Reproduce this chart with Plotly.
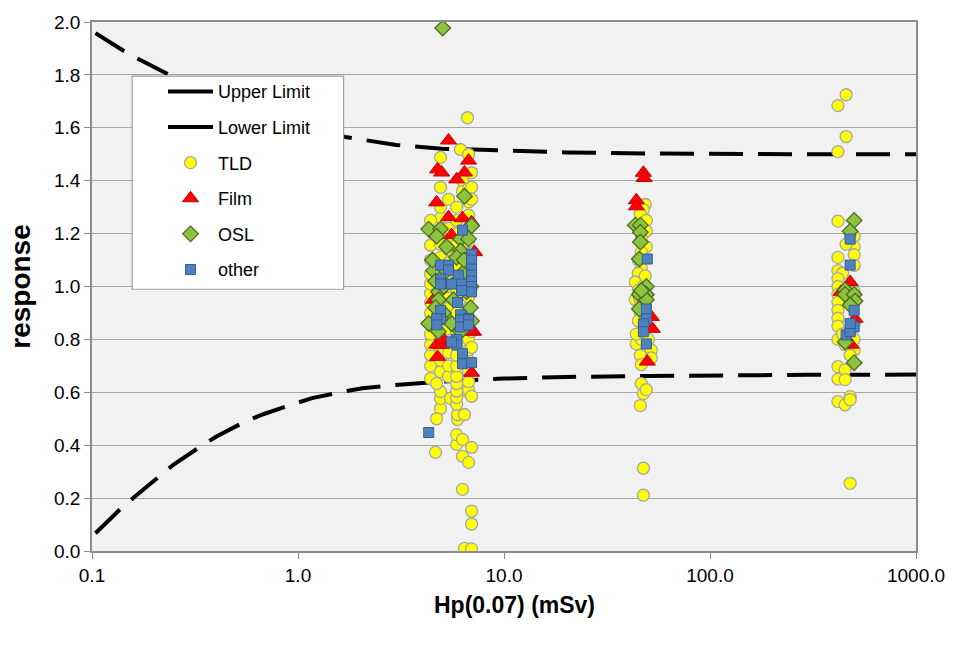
import plotly.graph_objects as go

# Acceptance limits (trumpet curves) read along Hp(0.07)
upper_dose = [0.104, 0.15, 0.2, 0.3, 0.5, 1.0, 1.7, 3.0, 5.0, 10.0, 20.0, 50.0, 100.0, 300.0, 1000.0]
upper_resp = [1.958, 1.88, 1.83, 1.76, 1.68, 1.60, 1.565, 1.535, 1.521, 1.513, 1.507, 1.503, 1.501, 1.500, 1.500]

lower_dose = [0.104, 0.135, 0.16, 0.211, 0.248, 0.336, 0.402, 0.556, 0.678, 0.954, 1.17, 1.67,
              2.05, 2.97, 5.0, 10.0, 20.0, 50.0, 100.0, 300.0, 1000.0]
lower_resp = [0.067, 0.153, 0.203, 0.282, 0.326, 0.395, 0.433, 0.490, 0.517, 0.556, 0.578, 0.603,
              0.615, 0.628, 0.640, 0.652, 0.658, 0.662, 0.665, 0.666, 0.667]

# TLD results
tld_dose = [
    4.40, 4.40, 4.40, 4.40, 4.40, 4.40, 4.40, 4.40, 4.40, 4.40, 4.40, 4.40, 4.40,
    4.92, 4.92, 4.92, 4.92, 4.92, 4.92, 4.92, 4.92, 4.92, 4.92, 4.92, 4.92, 4.92, 4.92, 4.92, 4.92, 4.92, 4.92, 4.92, 4.92,
    5.38, 5.38, 5.38, 5.38, 5.38, 5.38, 5.38, 5.38, 5.38, 5.38, 5.38, 5.38, 5.38, 5.38, 5.38, 5.50,
    5.89, 5.89, 5.95, 5.95, 5.89, 5.89, 5.89, 5.89, 5.89, 5.89, 5.89, 5.89, 5.89, 5.89, 5.89, 5.89, 5.89, 5.89, 5.89, 5.89, 5.89, 5.89, 5.89, 5.89,
    6.29, 6.29, 6.29, 6.43, 6.43, 6.15, 6.29, 6.29, 6.65,
    6.73, 6.73, 6.73, 6.73, 6.73, 6.73, 6.73, 6.73, 6.73, 6.73, 6.73, 6.73, 6.73, 6.73, 6.73, 6.73, 6.73, 6.73, 6.73, 6.73, 6.73, 6.73,
    6.96, 6.96, 6.96, 6.96, 6.96, 6.96, 6.96, 6.96, 6.96, 6.96,
    4.65, 4.71, 4.71, 4.55, 4.40,
    48.5, 47.5, 45.9, 49.1, 49.1, 46.4, 49.1, 46.4, 44.9, 46.4, 44.9, 43.4, 47.5, 44.9, 43.4, 45.9, 45.9,
    44.9, 49.1, 43.9, 46.4, 45.9, 51.9, 51.9, 46.4, 46.4, 47.5, 49.1, 45.9, 47.5, 47.5, 45.4, 48.5, 43.9, 50.2,
    458, 418, 458, 418, 418, 501, 501, 458, 418, 501, 418, 440, 501, 418, 418, 501, 418, 418, 501, 418,
    418, 501, 418, 418, 453, 501, 418, 453, 418, 453, 418, 453, 479, 479, 479, 479, 440, 479, 501,
]
tld_resp = [
    0.652, 0.70, 0.74, 0.78, 0.82, 0.86, 0.90, 0.94, 0.975, 1.01, 1.047, 1.10, 1.156,
    0.539, 0.577, 0.603, 0.678, 0.72, 0.76, 0.80, 0.85, 0.89, 0.93, 0.97, 1.02, 1.06, 1.11, 1.16, 1.21, 1.26, 1.30, 1.375, 1.488,
    0.66, 0.70, 0.75, 0.79, 0.84, 0.88, 0.92, 0.96, 1.00, 1.05, 1.09, 1.14, 1.18, 1.22, 1.33, 0.577,
    0.403, 0.44, 0.497, 0.516, 0.555, 0.58, 0.605, 0.633, 0.66, 0.70, 0.74, 0.78, 0.82, 0.86, 0.90, 0.95, 0.99, 1.03, 1.07, 1.12, 1.16, 1.20, 1.25, 1.30,
    0.233, 0.358, 0.422, 0.516, 0.010, 1.518, 1.40, 1.36, 1.638,
    0.335, 0.60, 0.61, 0.64, 0.68, 0.72, 0.76, 0.80, 0.84, 0.88, 0.92, 0.96, 1.00, 1.04, 1.08, 1.12, 1.17, 1.22, 1.27, 1.32, 1.37, 1.499,
    0.008, 0.102, 0.151, 0.392, 1.43, 1.375, 1.33, 0.77, 0.83, 0.585,
    0.373, 0.50, 0.633, 1.20, 1.25,
    1.31, 1.29, 1.273, 1.25, 1.21, 1.18, 1.15, 1.13, 1.10, 1.07, 1.05, 1.017, 1.00, 0.985, 0.95, 0.93, 0.90,
    0.87, 0.88, 0.783, 0.80, 0.74, 0.76, 0.73, 0.705, 0.633, 0.595, 0.61, 0.55, 0.313, 0.211, 0.96, 1.04, 0.82, 0.80,
    1.725, 1.684, 1.567, 1.51, 1.247, 1.19, 1.15, 1.16, 1.11, 1.12, 1.06, 1.05, 1.08, 1.03, 1.00, 0.98, 0.97, 0.94, 0.95, 0.91,
    0.88, 0.86, 0.85, 0.80, 0.78, 0.76, 0.697, 0.685, 0.65, 0.648, 0.565, 0.553, 0.584, 0.572, 0.256, 1.20, 0.82, 0.74, 0.80,
]

# Film results
film_dose = [5.38, 6.73, 4.76, 4.98, 6.43, 5.89, 4.71, 5.38, 6.29, 6.96, 5.56, 7.11, 4.71, 4.98, 4.76, 6.96,
             4.55, 5.09, 6.88, 7.20,
             47.5, 47.9, 43.9, 43.9, 51.9, 52.5, 49.6,
             479, 433, 506, 484]
film_resp = [1.552, 1.476, 1.443, 1.431, 1.431, 1.405, 1.318, 1.262, 1.258, 1.243, 1.194, 0.829, 0.78, 0.78, 0.734, 0.674,
             0.95, 0.80, 0.83, 1.13,
             1.43, 1.41, 1.326, 1.303, 0.885, 0.84, 0.716,
             1.017, 0.98, 0.878, 0.78]

# OSL results
osl_dose = [5.04, 6.43, 4.31, 4.92, 4.71, 6.96, 6.15, 6.73, 5.26, 6.15, 5.89, 4.55, 4.65, 4.81, 4.81, 5.09,
            6.58, 6.88, 4.31, 4.92, 5.56, 6.15, 6.58, 5.89, 6.29, 5.26, 4.65, 6.96, 5.69, 4.50, 5.10, 6.40, 4.80, 6.90,
            43.4, 45.9, 45.9, 45.9, 45.4, 49.1, 49.1, 45.4, 49.1, 46.4, 45.4,
            501, 479, 453, 453, 501, 506, 479, 453, 501]
osl_resp = [1.977, 1.341, 1.217, 1.217, 1.19, 1.23, 1.18, 1.18, 1.15, 1.134, 1.11, 1.06, 1.02, 0.98, 0.95, 0.90,
            0.89, 0.92, 0.86, 0.88, 0.86, 0.83, 0.98, 1.02, 1.05, 1.06, 0.92, 0.87, 0.95, 1.10, 1.00, 1.10, 0.83, 1.00,
            1.232, 1.232, 1.205, 1.168, 1.104, 1.00, 0.97, 0.97, 0.95, 0.985, 0.915,
            1.25, 1.209, 0.987, 0.97, 0.97, 0.945, 0.93, 0.79, 0.712]

# Other dosemeter types
other_dose = [6.29, 6.96, 6.96, 4.92, 5.38, 5.38, 6.02, 6.96, 6.96, 6.96, 6.96, 6.96, 4.92, 4.92, 5.56, 6.22,
              6.22, 5.95, 4.92, 4.92, 6.15, 6.73, 4.71, 4.71, 6.15, 6.15, 6.73, 6.73, 5.89, 5.89, 5.56, 6.29,
              6.29, 6.96, 4.31,
              49.6, 49.1, 49.1, 47.5, 47.5, 49.1,
              479, 479, 501, 501, 458, 479, 479]
other_resp = [1.213, 1.122, 1.10, 1.081, 1.081, 1.062, 1.043, 1.066, 1.043, 1.02, 1.00, 0.98, 1.028, 1.009, 1.009, 1.009,
              0.985, 0.94, 0.91, 0.878, 0.893, 0.878, 0.878, 0.855, 0.874, 0.847, 0.874, 0.855, 0.80, 0.78, 0.79, 0.746,
              0.708, 0.712, 0.448,
              1.104, 0.915, 0.878, 0.859, 0.829, 0.783,
              1.179, 1.081, 0.91, 0.847, 0.817, 0.829, 0.86]

x_tick_vals = [0.1, 1, 10, 100, 1000]
x_tick_text = ["0.1", "1.0", "10.0", "100.0", "1000.0"]

FONT = "Liberation Sans, Arial, sans-serif"
LIMIT_DASH = "34px,15px"
LIMIT_LINE = dict(color="black", width=4, dash=LIMIT_DASH)
LEGEND_LINE = dict(color="black", width=4)

fig = go.Figure()

# limit curves (legend keys shown as solid strokes)
fig.add_trace(go.Scatter(x=upper_dose, y=upper_resp, mode="lines", name="Upper Limit",
                         legendgroup="u", showlegend=False, line=LIMIT_LINE))
fig.add_trace(go.Scatter(x=[None], y=[None], mode="lines", name="Upper Limit",
                         legendgroup="u", line=LEGEND_LINE))
fig.add_trace(go.Scatter(x=lower_dose, y=lower_resp, mode="lines", name="Lower Limit",
                         legendgroup="l", showlegend=False, line=LIMIT_LINE))
fig.add_trace(go.Scatter(x=[None], y=[None], mode="lines", name="Lower Limit",
                         legendgroup="l", line=LEGEND_LINE))

fig.add_trace(go.Scatter(x=tld_dose, y=tld_resp, mode="markers", name="TLD", legendgroup="t",
                         marker=dict(symbol="circle", size=12, color="#ffff00",
                                     line=dict(color="#a6a6a6", width=1.3))))
fig.add_trace(go.Scatter(x=film_dose, y=film_resp, mode="markers", name="Film", legendgroup="f",
                         marker=dict(symbol="triangle-up", size=14, color="#ff0000",
                                     line=dict(color="#c00000", width=1))))
fig.add_trace(go.Scatter(x=osl_dose, y=osl_resp, mode="markers", name="OSL", legendgroup="o",
                         marker=dict(symbol="diamond", size=12, color="#8cc43f",
                                     line=dict(color="#4f6b22", width=1.3))))
fig.add_trace(go.Scatter(x=other_dose, y=other_resp, mode="markers", name="other", legendgroup="x",
                         marker=dict(symbol="square", size=10, color="#4f81bd",
                                     line=dict(color="#345f94", width=1))))

# white legend panel with grey frame
fig.add_shape(type="rect", xref="paper", yref="paper", x0=0.0488, x1=0.3053, y0=0.4948, y1=0.8975,
              fillcolor="white", line=dict(color="#a0a0a0", width=1.2), layer="above")

# x-axis title
fig.add_annotation(text="<b>Hp(0.07) (mSv)</b>", xref="paper", yref="paper", x=0.5123, y=-0.1016,
                   xanchor="center", yanchor="middle", showarrow=False,
                   font=dict(size=23, family=FONT, color="black"))

fig.update_layout(
    width=957, height=648,
    margin=dict(l=92, r=39, t=19, b=97),
    paper_bgcolor="white",
    plot_bgcolor="#f1f1f1",
    font=dict(family=FONT, color="black"),
    showlegend=True,
    legend=dict(x=0.0862, y=0.9031, xanchor="left", yanchor="top",
                bgcolor="rgba(0,0,0,0)", borderwidth=0,
                font=dict(size=18, family=FONT), tracegroupgap=9.2,
                itemwidth=45, traceorder="grouped"),
    xaxis=dict(type="log", range=[-1, 3], tickvals=x_tick_vals, ticktext=x_tick_text,
               showgrid=False, zeroline=False, showline=True, linecolor="#8c8c8c", linewidth=1.5,
               mirror=True, ticks="outside", ticklen=6, tickcolor="#8c8c8c",
               tickfont=dict(size=19, family=FONT)),
    yaxis=dict(range=[0, 2], dtick=0.2, tick0=0, tickformat=".1f",
               showgrid=True, gridcolor="#a6a6a6", gridwidth=1, zeroline=False,
               showline=True, linecolor="#8c8c8c", linewidth=1.5, mirror=True,
               ticks="outside", ticklen=6, tickcolor="#8c8c8c",
               tickfont=dict(size=19, family=FONT),
               title=dict(text="<b>response</b>", font=dict(size=28, family=FONT), standoff=15)),
)

fig.write_html("out.html")
